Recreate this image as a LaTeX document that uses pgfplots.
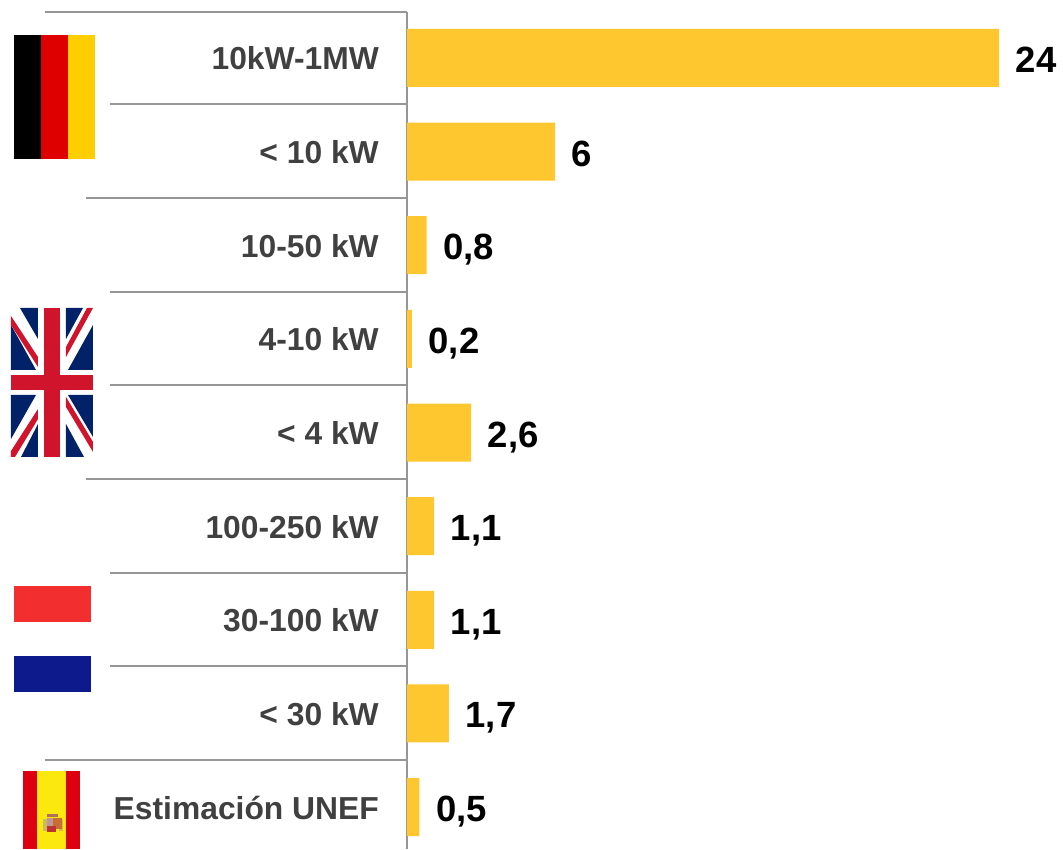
\documentclass[border=0pt]{standalone}
\usepackage{pgfplots}
\pgfplotsset{compat=1.18}
\usepackage{fontspec}
\setmainfont{Liberation Sans}
\definecolor{barc}{HTML}{FFC72F}
\definecolor{sep}{HTML}{969696}
\definecolor{lab}{HTML}{404040}
\definecolor{ukb}{HTML}{012169}
\definecolor{ukr}{HTML}{CF142B}
\begin{document}
\begin{tikzpicture}
\begin{axis}[
  scale only axis, width=656pt, height=837pt,
  xmin=0, xmax=26.59, ymin=-0.4913, ymax=8.4486, y dir=reverse,
  clip=false,
  axis x line=none,
  axis y line=left,
  y axis line style={-, draw=sep, line width=2pt},
  xbar, bar width=58pt, bar shift=0pt,
  ytick={0,1,2,3,4,5,6,7,8},
  yticklabels={10kW-1MW,{< 10 kW},10-50 kW,4-10 kW,{< 4 kW},100-250 kW,30-100 kW,{< 30 kW},Estimación UNEF},
  major tick length=0pt,
  tick style={draw=none},
  yticklabel style={font=\fontsize{31.8}{33}\selectfont\bfseries, text=lab, text height=23pt, text depth=0pt, inner sep=0pt, anchor=east, xshift=-28pt, yshift=-0.5pt},
  nodes near coords,
  point meta=x,
  every node near coord/.append style={font=\fontsize{36.5}{37}\selectfont\bfseries, text=black, inner sep=0pt, text height=26pt, text depth=0pt, xshift=16.5pt, yshift=-1.5pt,
    /pgf/number format/use comma, /pgf/number format/assume math mode=true},
]
\addplot[fill=barc, draw=none] coordinates {(24,0) (6,1) (0.8,2) (0.2,3) (2.6,4) (1.1,5) (1.1,6) (1.7,7) (0.5,8)};
\end{axis}
\path (-407pt,0) rectangle (656pt,849pt);
\begin{scope}[x=1pt,y=-1pt,shift={(-407pt,849pt)}]
% separators
\foreach \yy/\xx in {12/45,104/110,198/86,292/110,385/110,479/86,573/110,666/110,760/45}
  \draw[sep, line width=2pt] (\xx,\yy) -- (407,\yy);
% Germany
\fill[black] (14,35) rectangle (41,159);
\fill[fill=red!87!black] (41,35) rectangle (68,159);
\fill[fill={rgb,255:red,255;green,206;blue,0}] (68,35) rectangle (95,159);
% UK
\fill[white] (11,308) rectangle (93,457);
\fill[ukb] (20,308) -- (38,308) -- (38,339) -- cycle;
\fill[ukb] (11,325) -- (11,370) -- (36,370) -- cycle;
\fill[ukb] (66,308) -- (83,308) -- (66,339) -- cycle;
\fill[ukb] (93,325) -- (93,370) -- (68,370) -- cycle;
\fill[ukb] (11,395) -- (36,395) -- (11,439) -- cycle;
\fill[ukb] (38,424) -- (38,457) -- (21,457) -- cycle;
\fill[ukb] (68,395) -- (93,395) -- (93,437) -- cycle;
\fill[ukb] (66,424) -- (66,457) -- (84,457) -- cycle;
\fill[ukr] (11,316) -- (38,357) -- (38,367) -- (11,325) -- cycle;
\fill[ukr] (87,308) -- (93,308) -- (66,357) -- (66,347) -- cycle;
\fill[ukr] (38,409) -- (38,419) -- (15,457) -- (11,457) -- (11,451) -- cycle;
\fill[ukr] (66,397) -- (93,442) -- (93,452) -- (66,407) -- cycle;
\fill[ukr] (44,308) rectangle (60,457);
\fill[ukr] (11,375) rectangle (93,390);
% Netherlands
\fill[fill={rgb,255:red,243;green,46;blue,46}] (14,586) rectangle (91,622);
\fill[fill={rgb,255:red,13;green,26;blue,140}] (14,656) rectangle (91,692);
% Spain
\fill[fill={rgb,255:red,221;green,0;blue,16}] (23,771) rectangle (80,849);
\fill[fill={rgb,255:red,250;green,232;blue,15}] (37,771) rectangle (66,849);
\fill[fill={rgb,255:red,205;green,185;blue,90}] (43,819) rectangle (47,831);
\fill[fill={rgb,255:red,205;green,185;blue,90}] (59,819) rectangle (63,831);
\fill[fill={rgb,255:red,200;green,110;blue,50}] (53,818) rectangle (62,829);
\fill[fill={rgb,255:red,190;green,150;blue,150}] (47,818) rectangle (53,826);
\fill[fill={rgb,255:red,190;green,50;blue,50}] (47,826) rectangle (56,832);
\fill[fill={rgb,255:red,180;green,110;blue,90}] (47,814) rectangle (58,817);
\end{scope}
\end{tikzpicture}
\end{document}
